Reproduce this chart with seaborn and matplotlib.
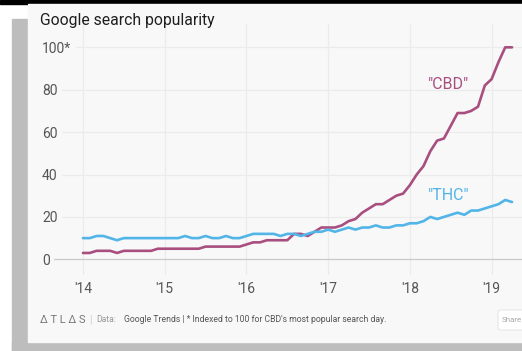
import numpy as np
import pandas as pd
import matplotlib.pyplot as plt
import matplotlib.patches as mpatches
import seaborn as sns

# -------------------
# Dados (mensal, jan/2014 - abr/2019)
# -------------------
cbd = [3, 3, 4, 4, 4, 3, 4, 4, 4, 4, 4, 5, 5, 5, 5, 5, 5, 5, 6, 6, 6, 6, 6, 6,
       7, 8, 8, 9, 9, 9, 9, 12, 12, 11, 13, 15, 15, 15, 16, 18, 19, 22, 24, 26,
       26, 28, 30, 31, 35, 40, 44, 51, 56, 57, 63, 69, 69, 70, 72, 82, 85, 93,
       100, 100]
thc = [10, 10, 11, 11, 10, 9, 10, 10, 10, 10, 10, 10, 10, 10, 10, 11, 10, 10,
       11, 10, 10, 11, 10, 10, 11, 12, 12, 12, 12, 11, 12, 12, 11, 12, 13, 13,
       14, 13, 14, 15, 14, 15, 15, 16, 15, 15, 16, 16, 17, 17, 18, 20, 19, 20,
       21, 22, 21, 23, 23, 24, 25, 26, 28, 27]
year_ticks = [0, 12, 24, 36, 48, 60]
year_labels = ["'14", "'15", "'16", "'17", "'18", "'19"]
y_ticks = [0, 20, 40, 60, 80, 100]
y_labels = ['0', '20', '40', '60', '80', '100*']

df = pd.DataFrame({
    'mes': list(range(len(cbd))) * 2,
    'valor': cbd + thc,
    'termo': ['CBD'] * len(cbd) + ['THC'] * len(thc),
})

cor_cbd = '#a84f80'
cor_thc = '#52b5e8'
card = '#f8f8f8'
W, H = 522, 351

sns.set_theme(style='whitegrid')
plt.rcParams['font.family'] = ['Roboto', 'DejaVu Sans']

fig = plt.figure(figsize=(W / 100, H / 100), dpi=100, facecolor='white')


def rect(x0, y0, x1, y1, cor):
    fig.patches.append(mpatches.Rectangle((x0 / W, 1 - y1 / H), (x1 - x0) / W, (y1 - y0) / H,
                                          transform=fig.transFigure, color=cor, zorder=-1))


# -------------------
# Moldura
# -------------------
rect(0, 0, W, 4, 'black')
rect(12, 19, 28, H, '#bdbdbd')
rect(12, 342, W, H, '#bdbdbd')
rect(28, 4, W, 342, card)
share = mpatches.FancyBboxPatch((498 / W, 1 - 330 / H), 30 / W, 20 / H,
                                boxstyle='round,pad=0,rounding_size=0.006',
                                transform=fig.transFigure, fc='white', ec='#e6e6e6', lw=0.8,
                                zorder=-1)
fig.patches.append(share)

# -------------------
# Gráfico
# -------------------
ax = fig.add_axes([40 / W, 1 - 275 / H, (W - 40) / W, (275 - 24) / H])
ax.set_zorder(2)
ax.set_facecolor(card)
sns.lineplot(data=df, x='mes', y='valor', hue='termo', palette={'CBD': cor_cbd, 'THC': cor_thc},
             linewidth=1.9, legend=False, ax=ax)

ax.set_xlim(-6.31, 64.46)
ax.set_ylim(-7.4, 111)
ax.set_xticks(year_ticks)
ax.set_xticklabels(year_labels)
ax.set_yticks(y_ticks)
ax.set_yticklabels(y_labels)
ax.set_xlabel('')
ax.set_ylabel('')
for s in ax.spines.values():
    s.set_visible(False)
ax.grid(True, color='#ebebeb', linewidth=0.9)
ax.yaxis.get_gridlines()[0].set_color('#c9c9c9')
ax.tick_params(axis='x', length=0, pad=5, labelsize=10, labelcolor='#555555')
ax.tick_params(axis='y', length=0, pad=-1.5, labelsize=10, labelcolor='#555555')
for lbl in ax.get_yticklabels():
    lbl.set_horizontalalignment('left')
    lbl.set_bbox(dict(boxstyle='square,pad=0.3', fc=card, ec='none'))

ax.text(53.6, 82.5, '"CBD"', color=cor_cbd, fontsize=11.5, ha='center', va='center')
ax.text(53.7, 30.3, '"THC"', color=cor_thc, fontsize=11.5, ha='center', va='center')

# -------------------
# Textos
# -------------------
fig.text(40 / W, 1 - 20 / H, 'Google search popularity', fontsize=11.3, color='#1e1e1e',
         va='center', ha='left')
fig.text(40 / W, 1 - 320 / H, 'Δ T L Δ S', fontsize=8, color='#777777', va='center')
fig.text(89 / W, 1 - 320 / H, '|', fontsize=7, color='#cccccc', va='center')
fig.text(96 / W, 1 - 320 / H, 'Data:', fontsize=6.2, color='#999999', va='center')
fig.text(124 / W, 1 - 320 / H, "Google Trends | * Indexed to 100 for CBD's most popular search day.",
         fontsize=6.2, color='#555555', va='center')
fig.text(502 / W, 1 - 320 / H, 'Share', fontsize=5.8, color='#aaaaaa', va='center')

fig.savefig('out.png', dpi=100, facecolor=fig.get_facecolor())
